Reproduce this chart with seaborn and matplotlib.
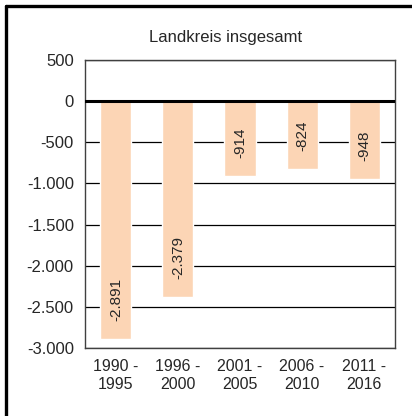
import matplotlib
matplotlib.use("Agg")
import matplotlib.pyplot as plt
import matplotlib.ticker as mticker
from matplotlib.lines import Line2D
import pandas as pd
import seaborn as sns

periods = ["1990 -\n1995", "1996 -\n2000", "2001 -\n2005", "2006 -\n2010", "2011 -\n2016"]
values = [-2891, -2379, -914, -824, -948]
y_ticks = [500, 0, -500, -1000, -1500, -2000, -2500, -3000]

sns.set_style("white")
plt.rcParams["font.family"] = ["Liberation Sans", "DejaVu Sans"]

df = pd.DataFrame({"period": periods, "value": values})

fig = plt.figure(figsize=(4.12, 4.16), dpi=100)
ax = fig.add_axes([0.206, 0.163, 0.753, 0.693])

sns.barplot(
    data=df,
    x="period",
    y="value",
    color="#FCD5B5",
    saturation=1,
    width=0.5,
    ax=ax,
    zorder=3
)

ax.set_ylim(-3000, 500)
ax.set_xlim(-0.5, 4.5)
ax.set_yticks(y_ticks)
ax.yaxis.set_major_formatter(
    mticker.FuncFormatter(lambda v, p: f"{int(v):,}".replace(",", "."))
)
for t in y_ticks:
    ax.axhline(t, color="black", lw=0.9, zorder=1)
ax.axhline(0, color="black", lw=2.2, zorder=4)

for i, v in enumerate(values):
    ax.text(
        i,
        v + 220,
        f"{v:,}".replace(",", "."),
        rotation=90,
        ha="center",
        va="bottom",
        fontsize=11,
        zorder=5
    )

ax.set_xlabel("")
ax.set_ylabel("")
ax.tick_params(axis="y", length=5, width=0.9, color="#404040", labelsize=12, pad=3)
ax.tick_params(axis="x", length=0, labelsize=11.5, pad=8)
for side in ["left", "right", "bottom", "top"]:
    ax.spines[side].set_color("#404040")
    ax.spines[side].set_linewidth(1.0)

fig.text(0.547, 0.911, "Landkreis insgesamt", ha="center", va="center", fontsize=12)

fig.add_artist(Line2D([0.0146, 0.0146], [0, 0.986], color="black", lw=2.4, transform=fig.transFigure))
fig.add_artist(Line2D([0.0146, 1.0], [0.986, 0.986], color="black", lw=2.4, transform=fig.transFigure))

fig.savefig("out.png", dpi=100, facecolor="white")
plt.close(fig)
